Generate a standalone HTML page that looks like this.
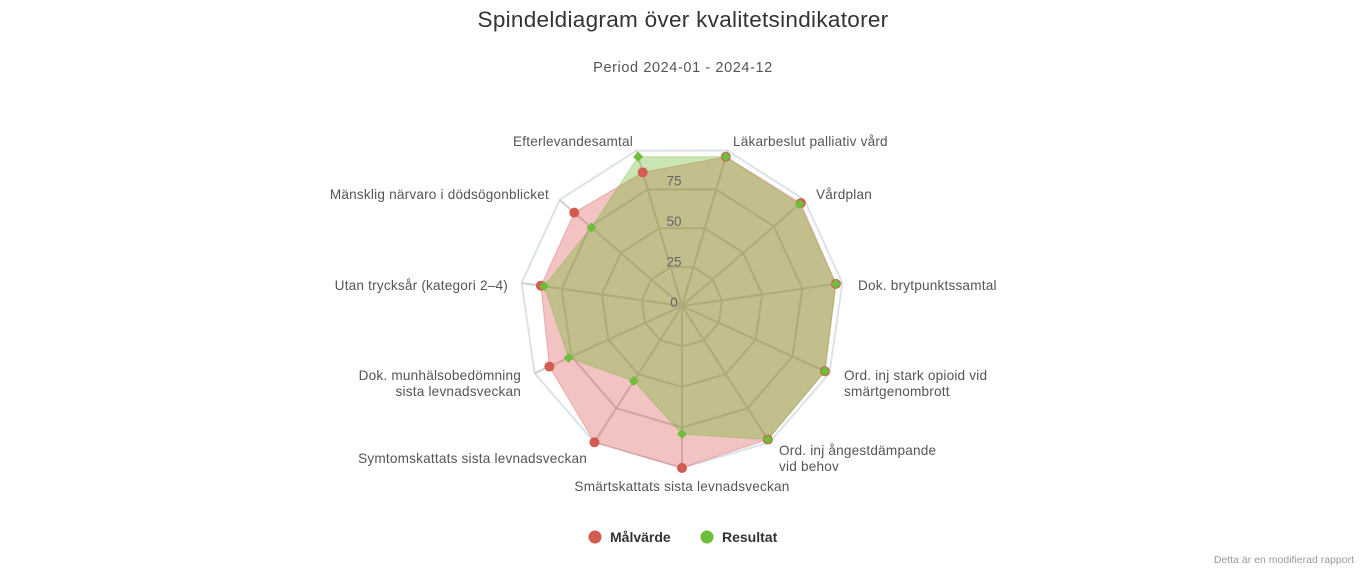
<!DOCTYPE html>
<html><head><meta charset="utf-8">
<style>
html,body{margin:0;padding:0;background:#fff;}
svg{display:block;font-family:"Liberation Sans","DejaVu Sans",sans-serif;}
</style></head>
<body>
<svg id="chart" width="1366" height="569" viewBox="0 0 1366 569">
<text x="683" y="27" text-anchor="middle" font-size="22.5" letter-spacing="0.3" fill="#333">Spindeldiagram över kvalitetsindikatorer</text>
<text x="683" y="72" text-anchor="middle" font-size="14.5" letter-spacing="0.6" fill="#555">Period 2024-01 - 2024-12</text>
<g id="grid"></g>
<g id="series"></g>
<g id="labels"></g>
<g>
<g><circle cx="595" cy="537" r="6.5" fill="#d15c4f"/><text x="610" y="542" font-size="14" font-weight="bold" fill="#333">Målvärde</text></g>
<g><circle cx="707" cy="537" r="6.5" fill="#6dbf3a"/><text x="722" y="542" font-size="14" font-weight="bold" fill="#333">Resultat</text></g>
</g>
<text x="1354" y="563" text-anchor="end" font-size="10.5" fill="#999">Detta är en modifierad rapport</text>
</svg>
<script>
const categories=["Läkarbeslut palliativ vård","Vårdplan","Dok. brytpunktssamtal","Ord. inj stark opioid vid smärtgenombrott","Ord. inj ångestdämpande vid behov","Smärtskattats sista levnadsveckan","Symtomskattats sista levnadsveckan","Dok. munhälsobedömning sista levnadsveckan","Utan trycksår (kategori 2–4)","Mänsklig närvaro i dödsögonblicket","Efterlevandesamtal"];
const targetValues=[96,97,96,97,98,100,100,90,88,88,86];
const resultValues=[96,96,96,97,98,79,55,77,86,74,96];
const tickValues=[0,25,50,75];
const labelLines=[["Läkarbeslut palliativ vård"],["Vårdplan"],["Dok. brytpunktssamtal"],["Ord. inj stark opioid vid","smärtgenombrott"],["Ord. inj ångestdämpande","vid behov"],["Smärtskattats sista levnadsveckan"],["Symtomskattats sista levnadsveckan"],["Dok. munhälsobedömning","sista levnadsveckan"],["Utan trycksår (kategori 2–4)"],["Mänsklig närvaro i dödsögonblicket"],["Efterlevandesamtal"]];
const labelPos=[[733,141,"start"],[816,194,"start"],[858,285,"start"],[844,375,"start"],[779,450,"start"],[682,486,"middle"],[587,458,"end"],[521,375,"end"],[508,285,"end"],[549,194,"end"],[633,141,"end"]];

const NS="http://www.w3.org/2000/svg";
const cx=682, cy=306, R=162, maxV=100;
const n=categories.length;
const start=16.36*Math.PI/180;
function ang(i){return start+i*2*Math.PI/n;}
function px(i,v){return cx+Math.sin(ang(i))*R*v/maxV;}
function py(i,v){return cy-Math.cos(ang(i))*R*v/maxV;}
function mk(tag,attrs,parent){const e=document.createElementNS(NS,tag);for(const k in attrs)e.setAttribute(k,attrs[k]);parent.appendChild(e);return e;}

const grid=document.getElementById('grid');
[25,50,75,100].forEach(function(t){
  let pts=[];for(let i=0;i<n;i++)pts.push(px(i,t)+","+py(i,t));
  const p=mk('polygon',{points:pts.join(' '),fill:'none',stroke:t===100?'#dbe3ea':'#cfcfcf','stroke-width':2},grid);
  
  
});
for(let i=0;i<n;i++){
  const l=mk('line',{x1:cx,y1:cy,x2:px(i,100),y2:py(i,100),stroke:'#cfcfcf','stroke-width':2},grid);
  
  
}

const ser=document.getElementById('series');
function area(vals,color,name){
  let pts=[];for(let i=0;i<n;i++)pts.push(px(i,vals[i])+","+py(i,vals[i]));
  const p=mk('polygon',{points:pts.join(' '),fill:color,'fill-opacity':0.35,stroke:color,'stroke-opacity':0.35,'stroke-width':1},ser);
  
  
}
area(targetValues,'#d9534f','malvarde-area');
area(resultValues,'#6ab82c','resultat-area');

const ticks=mk('g',{},ser);
tickValues.forEach(function(t){
  const tx=mk('text',{x:cx-8,y:cy-R*t/maxV+1,'text-anchor':'middle','font-size':13.5,fill:'#666'},ticks);
  tx.textContent=t;
  
  
});

for(let i=0;i<n;i++){
  const c=mk('circle',{cx:px(i,targetValues[i]),cy:py(i,targetValues[i]),r:5,fill:'#d15c4f'},ser);
  
  
}
for(let i=0;i<n;i++){
  const x=px(i,resultValues[i]),y=py(i,resultValues[i]),s=5;
  const d=mk('polygon',{points:x+","+(y-s)+" "+(x+s)+","+y+" "+x+","+(y+s)+" "+(x-s)+","+y,fill:'#6dbf3a'},ser);
  
  
}

const lab=document.getElementById('labels');
for(let i=0;i<n;i++){
  const lines=labelLines[i],p=labelPos[i];
  lines.forEach(function(s,k){
    const t=mk('text',{x:p[0],y:p[1]+5+k*16,'text-anchor':p[2],'font-size':13.6,'letter-spacing':0.2,fill:'#555'},lab);
    t.textContent=s;
    
    
  });
}
</script>
</body></html>
